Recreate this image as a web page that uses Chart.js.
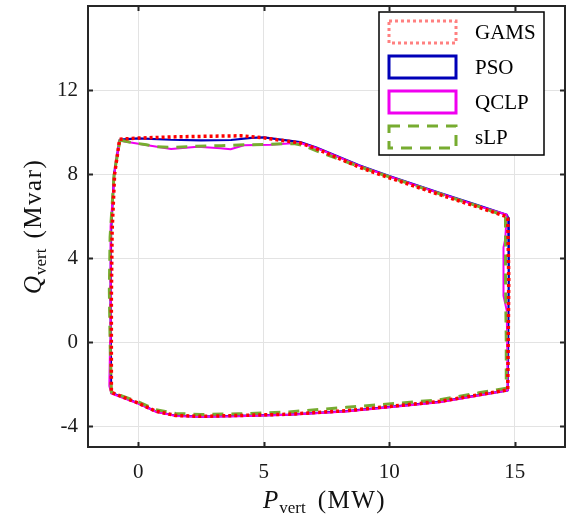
<!DOCTYPE html>
<html>
<head>
<meta charset="utf-8">
<script src="https://cdn.jsdelivr.net/npm/chart.js@4.4.1/dist/chart.umd.min.js"></script>
<style>
  html, body { margin: 0; padding: 0; background: #ffffff; }
</style>
</head>
<body>
<canvas id="Chart1" width="570" height="523"></canvas>
<script>
// Vertices of the P-Q capability polygon from each method (MW, Mvar)
const seriesNames = ["GAMS", "PSO", "QCLP", "sLP"];

const gamsP = [-0.74, 0.0, 1.5, 3.0, 4.1, 5.0, 6.45, 7.1, 8.8, 10.0, 12.0, 13.6, 14.65, 14.72, 14.76, 14.72, 13.57, 12.0, 10.94, 8.3, 6.0, 4.0, 2.49, 1.5, 0.71, 0.0, -1.07, -1.07, -1.04, -0.94, -0.74];
const gamsQ = [9.66, 9.71, 9.77, 9.80, 9.82, 9.72, 9.48, 9.2, 8.33, 7.82, 7.02, 6.4, 5.98, 5.9, 3.0, -2.28, -2.51, -2.83, -2.96, -3.27, -3.44, -3.5, -3.54, -3.5, -3.3, -2.91, -2.4, 2.15, 5.31, 8.0, 9.66];

const psoP = [-0.74, 0.0, 1.3, 2.5, 3.7, 4.5, 5.0, 6.45, 7.1, 8.8, 10.0, 12.0, 13.6, 14.68, 14.74, 14.76, 14.72, 13.57, 12.0, 10.94, 8.3, 6.0, 4.0, 2.49, 1.5, 0.71, 0.0, -1.08, -1.1, -1.08, -0.96, -0.74];
const psoQ = [9.64, 9.70, 9.63, 9.60, 9.62, 9.72, 9.74, 9.52, 9.26, 8.42, 7.9, 7.1, 6.48, 6.06, 5.9, 3.0, -2.3, -2.53, -2.85, -2.98, -3.29, -3.46, -3.52, -3.55, -3.51, -3.31, -2.92, -2.42, 2.0, 5.3, 8.0, 9.64];

const qclpP = [-0.74, -0.54, 0.5, 1.31, 2.36, 3.28, 3.68, 4.21, 5.26, 6.12, 6.45, 7.1, 8.8, 10.0, 12.0, 13.6, 14.68, 14.62, 14.55, 14.55, 14.68, 14.72, 13.57, 12.0, 10.94, 8.3, 6.0, 4.0, 2.49, 1.5, 0.71, 0.0, -1.07, -1.15, -1.12, -1.1, -1.1, -0.95, -0.74];
const qclpQ = [9.62, 9.55, 9.35, 9.19, 9.30, 9.23, 9.18, 9.37, 9.39, 9.46, 9.48, 9.24, 8.4, 7.88, 7.08, 6.46, 6.06, 4.9, 4.5, 2.2, 1.5, -2.3, -2.55, -2.87, -3.0, -3.31, -3.47, -3.53, -3.56, -3.52, -3.32, -2.93, -2.45, -2.1, 0.0, 3.0, 5.5, 8.0, 9.62];

const slpP = [-0.72, -0.6, -0.28, 0.33, 0.71, 1.4, 2.3, 3.3, 4.3, 5.3, 6.2, 6.6, 7.1, 8.8, 10.0, 12.0, 13.6, 14.63, 14.63, 14.66, 14.66, 13.57, 12.0, 10.94, 8.3, 6.0, 4.0, 2.49, 1.5, 0.71, 0.0, -1.07, -1.12, -1.15, -1.12, -0.96, -0.72];
const slpQ = [9.64, 9.58, 9.5, 9.39, 9.3, 9.27, 9.32, 9.35, 9.39, 9.42, 9.45, 9.35, 9.1, 8.36, 7.86, 7.06, 6.44, 6.0, 3.0, 0.0, -2.2, -2.42, -2.75, -2.86, -3.11, -3.33, -3.42, -3.45, -3.4, -3.22, -2.85, -2.38, 0.0, 2.47, 5.0, 8.0, 9.64];

const xTicks = [0, 5, 10, 15];
const yTicks = [-4, 0, 4, 8, 12];

const SERIF = '"Liberation Serif", "Times New Roman", serif';

const toPoints = (ps, qs) => ps.map((p, i) => ({ x: p, y: qs[i] }));

// styles per series: plot line, legend sample, draw order (0 = on top)
const styles = [
    { color: "#ff0000", legendColor: "#ff8080", width: 3.5, dash: [3, 3], order: 0 },
    { color: "#0000b8", legendColor: "#0000b8", width: 2.2, dash: [], order: 3 },
    { color: "#f000f0", legendColor: "#f000f0", width: 2, dash: [], order: 2 },
    { color: "#77ac30", legendColor: "#77ac30", width: 3, dash: [11, 8], order: 1 },
];

const allData = [
    toPoints(gamsP, gamsQ),
    toPoints(psoP, psoQ),
    toPoints(qclpP, qclpQ),
    toPoints(slpP, slpQ),
];

// frame, inward ticks, legend box and axis titles
const decorPlugin = {
    id: "decor",
    afterDraw(chart) {
        const ctx = chart.ctx;
        const a = chart.chartArea;
        const xs = chart.scales.x, ys = chart.scales.y;
        ctx.save();

        // box + ticks
        ctx.strokeStyle = "#262626";
        ctx.lineWidth = 2;
        ctx.setLineDash([]);
        ctx.strokeRect(a.left, a.top, a.right - a.left, a.bottom - a.top);
        const tl = 5;
        ctx.beginPath();
        xTicks.forEach(v => {
            const px = Math.round(xs.getPixelForValue(v)) + 0.5;
            ctx.moveTo(px, a.bottom); ctx.lineTo(px, a.bottom - tl);
            ctx.moveTo(px, a.top); ctx.lineTo(px, a.top + tl);
        });
        yTicks.forEach(v => {
            const py = Math.round(ys.getPixelForValue(v)) + 0.5;
            ctx.moveTo(a.left, py); ctx.lineTo(a.left + tl, py);
            ctx.moveTo(a.right, py); ctx.lineTo(a.right - tl, py);
        });
        ctx.stroke();

        // legend
        const lx = 379, ly = 12, lw = 165, lh = 143;
        ctx.fillStyle = "#ffffff";
        ctx.fillRect(lx, ly, lw, lh);
        ctx.lineWidth = 1.5;
        ctx.strokeStyle = "#000000";
        ctx.strokeRect(lx, ly, lw, lh);
        seriesNames.forEach((name, i) => {
            const st = styles[i];
            const cy = 32 + i * 35;
            ctx.strokeStyle = st.legendColor;
            ctx.lineWidth = 3;
            ctx.setLineDash(st.dash);
            ctx.strokeRect(389, cy - 11, 67, 22);
            ctx.setLineDash([]);
            ctx.fillStyle = "#000000";
            ctx.font = "21px " + SERIF;
            ctx.textBaseline = "middle";
            ctx.textAlign = "left";
            ctx.fillText(name, 475, cy + 1);
        });

        // axis titles with subscripts
        const drawParts = (parts, x, y) => {
            let cx = x;
            parts.forEach(pt => {
                ctx.font = pt.font;
                ctx.letterSpacing = pt.spacing || "0px";
                ctx.fillText(pt.text, cx, y + (pt.dy || 0));
                cx += ctx.measureText(pt.text).width + (pt.gap || 0);
            });
            ctx.letterSpacing = "0px";
        };
        ctx.fillStyle = "#111111";
        ctx.textBaseline = "alphabetic";
        ctx.textAlign = "left";
        drawParts([
            { text: "P", font: "italic 25px " + SERIF, gap: 1 },
            { text: "vert", font: "17px " + SERIF, dy: 5, gap: 12 },
            { text: "(MW)", font: "25px " + SERIF, spacing: "1.5px" },
        ], 263, 508);

        ctx.translate(41, 294);
        ctx.rotate(-Math.PI / 2);
        drawParts([
            { text: "Q", font: "italic 25px " + SERIF, gap: 1 },
            { text: "vert", font: "17px " + SERIF, dy: 5, gap: 10 },
            { text: "(Mvar)", font: "25px " + SERIF, spacing: "1.5px" },
        ], 0, 0);

        ctx.restore();
    }
};

new Chart(document.getElementById("Chart1").getContext("2d"), {
    type: "scatter",
    data: {
        datasets: seriesNames.map((name, i) => ({
            label: name,
            data: allData[i],
            order: styles[i].order,
            showLine: true,
            fill: false,
            tension: 0,
            borderColor: styles[i].color,
            borderWidth: styles[i].width,
            borderDash: styles[i].dash,
            borderCapStyle: "butt",
            borderJoinStyle: "round",
            pointRadius: 0,
            pointHoverRadius: 0,
        }))
    },
    options: {
        responsive: false,
        animation: false,
        layout: { padding: { left: 0, right: 5, top: 6, bottom: 0 } },
        plugins: {
            legend: { display: false },
            tooltip: { enabled: false },
        },
        scales: {
            x: {
                type: "linear",
                min: -2,
                max: 17,
                afterBuildTicks: (s) => { s.ticks = xTicks.map(v => ({ value: v })); },
                afterFit: (s) => { s.height = 76; s.paddingLeft = 0; s.paddingRight = 0; },
                grid: { color: "#e3e3e3", lineWidth: 1, drawTicks: false },
                border: { display: false },
                ticks: {
                    padding: 13,
                    color: "#1a1a1a",
                    font: { family: SERIF, size: 21 },
                    maxRotation: 0,
                },
            },
            y: {
                type: "linear",
                min: -5,
                max: 16,
                afterBuildTicks: (s) => { s.ticks = yTicks.map(v => ({ value: v })); },
                afterFit: (s) => { s.width = 88; s.paddingTop = 0; s.paddingBottom = 0; },
                grid: { color: "#e3e3e3", lineWidth: 1, drawTicks: false },
                border: { display: false },
                ticks: {
                    padding: 10,
                    color: "#1a1a1a",
                    font: { family: SERIF, size: 21 },
                },
            },
        },
    },
    plugins: [decorPlugin],
});
</script>
</body>
</html>
